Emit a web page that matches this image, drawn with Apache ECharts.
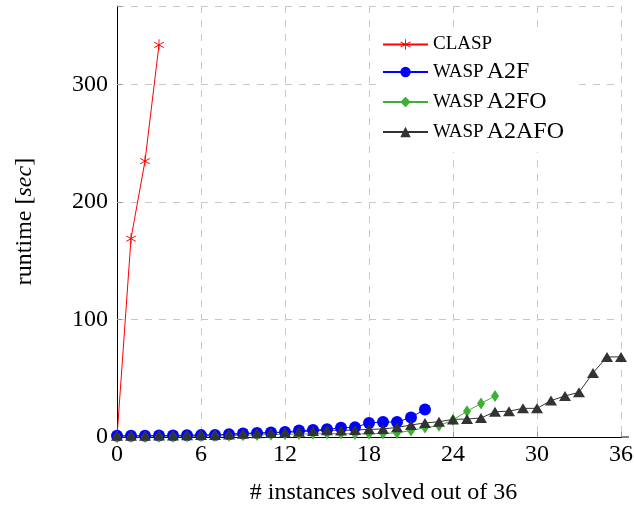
<!DOCTYPE html>
<html><head><meta charset="utf-8">
<script src="https://cdn.jsdelivr.net/npm/echarts@6/dist/echarts.min.js"></script>
<style>html,body{margin:0;padding:0;background:#fff}#c{width:634px;height:506px}</style>
</head><body><div id="c"></div>
<script>
// x tick labels and ranges
const xTicks = [0, 6, 12, 18, 24, 30, 36];
const yTicks = [0, 100, 200, 300];
// runtime (sec) per number of solved instances (index = # instances)
const clasp     = [0, 169, 235, 334];
const waspA2F   = [1, 1, 1.1, 1.2, 1.3, 1.4, 1.6, 1.8, 2.4, 3, 3.5, 3.8, 4.2, 5.5, 5.9, 6.5, 7.9, 8.2, 12, 12.8, 12.7, 16.7, 23.5];
const waspA2FO  = [0, 0, 0.1, 0.2, 0.3, 0.4, 0.6, 0.8, 1.1, 1.5, 1.8, 2, 2.3, 2.5, 2.7, 2.9, 2.9, 2.6, 2.8, 3, 3.5, 5.5, 8, 9.5, 14.4, 22, 28.5, 35];
const waspA2AFO = [1, 1, 1.1, 1.2, 1.3, 1.4, 1.6, 1.8, 2.2, 2.8, 3.2, 3.5, 3.9, 4.5, 5.1, 5.8, 5.6, 6, 6.5, 6.8, 8.2, 10.2, 12, 13, 15, 15.3, 16.2, 21.5, 22, 24.4, 24.4, 31, 35, 38, 54.6, 68.2, 68.2];
const seriesNames = ['CLASP', 'wasp A2F', 'wasp A2FO', 'wasp A2AFO'];

const FONT = 'Liberation Serif';
const pairs = arr => arr.map((v, i) => [i, v]);
const asterisk = 'path://M-0.8,10 L0.8,10 L0.8,-10 L-0.8,-10 Z M8.26,5.69 L9.06,4.31 L-8.26,-5.69 L-9.06,-4.31 Z M-9.06,4.31 L-8.26,5.69 L9.06,-4.31 L8.26,-5.69 Z';

const chart = echarts.init(document.getElementById('c'), null, {renderer: 'canvas'});
const mkSeries = (name, data, color, symbol, size, lw) => ({
  name, type: 'line', data: pairs(data), symbol, symbolSize: size, symbolKeepAspect: true,
  showAllSymbol: true, animation: false,
  lineStyle: {color, width: lw}, itemStyle: {color, borderWidth: 0}, emphasis: {disabled: true}
});

chart.setOption({
  animation: false,
  backgroundColor: '#fff',
  grid: {left: 117, right: 13, top: 6, bottom: 69, containLabel: false, outerBoundsMode: 'none'},
  legend: {
    orient: 'vertical', left: 376, top: 27, padding: [8, 12, 8, 6],
    backgroundColor: '#fff', itemWidth: 45, itemHeight: 13, itemGap: 6,
    data: seriesNames,
    formatter: n => n === 'CLASP' ? '{sc|CLASP}' : '{sc|WASP} {n|' + n.split(' ')[1] + '}',
    textStyle: {
      fontFamily: FONT, color: '#000',
      rich: {
        sc: {fontFamily: FONT, fontSize: 19, lineHeight: 20, color: '#000'},
        n: {fontFamily: FONT, fontSize: 24, lineHeight: 20, color: '#000'}
      }
    }
  },
  xAxis: [{
    type: 'value', min: 0, max: 36, interval: 6,
    name: '# instances solved out of 36', nameLocation: 'middle', nameGap: 44,
    nameTextStyle: {fontFamily: FONT, fontSize: 24, color: '#000', padding: [0, 0, 0, 29]},
    axisLine: {show: true, onZero: false, lineStyle: {color: '#000', width: 1}},
    axisTick: {show: true, inside: true, length: 5, lineStyle: {color: '#999'}},
    axisLabel: {fontFamily: FONT, fontSize: 24, color: '#000', margin: 6,
      formatter: v => xTicks.includes(v) ? String(v) : ''},
    splitLine: {show: true, lineStyle: {color: '#c8c8c8', type: [7, 7], width: 1}}
  }, {
    type: 'value', position: 'top', min: 0, max: 36,
    axisLine: {show: true, lineStyle: {color: '#000', width: 1}},
    axisTick: {show: false}, axisLabel: {show: false}, splitLine: {show: false}
  }],
  yAxis: {
    type: 'value', min: 0, max: 367, interval: 100,
    name: '{n|runtime }{n|[}{i|sec}{n|]}', nameLocation: 'middle', nameGap: 80,
    nameTextStyle: {fontFamily: FONT, fontSize: 24, color: '#000',
      rich: {n: {fontFamily: FONT, fontSize: 24, color: '#000'},
             i: {fontFamily: FONT, fontSize: 24, fontStyle: 'italic', color: '#000'}}},
    axisLine: {show: true, lineStyle: {color: '#000', width: 1}},
    axisTick: {show: true, inside: true, length: 5, lineStyle: {color: '#999'}},
    axisLabel: {fontFamily: FONT, fontSize: 24, color: '#000', margin: 9,
      formatter: v => yTicks.includes(v) ? String(v) : ''},
    splitLine: {show: true, lineStyle: {color: '#c8c8c8', type: [7, 7], width: 1}}
  },
  series: [
    mkSeries(seriesNames[0], clasp, '#ff0000', asterisk, 11, 1),
    mkSeries(seriesNames[1], waspA2F, '#0000ff', 'circle', 12, 1),
    mkSeries(seriesNames[2], waspA2FO, '#3cb032', 'diamond', [8, 12], 1),
    mkSeries(seriesNames[3], waspA2AFO, '#333333', 'triangle', [12, 10], 1)
  ]
});

const p = chart.convertToPixel({xAxisIndex: 0, yAxisIndex: 0}, [36, 0]);
chart.setOption({graphic: [{type: 'line', silent: true,
  shape: {x1: p[0], y1: p[1], x2: p[0] + 8, y2: p[1]},
  style: {stroke: '#000', lineWidth: 1}}]});
</script></body></html>
